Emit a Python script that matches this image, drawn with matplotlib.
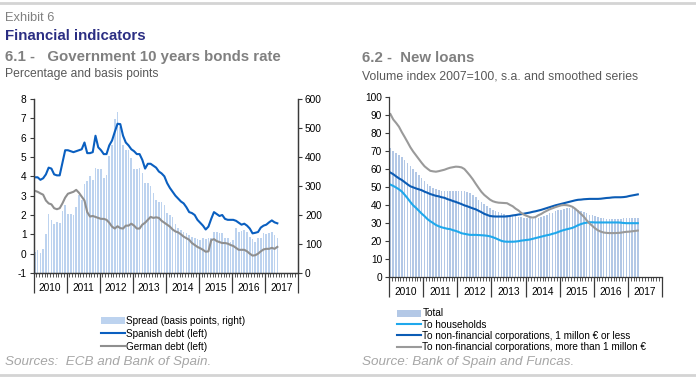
import numpy as np
import matplotlib.pyplot as plt
from matplotlib.lines import Line2D
from matplotlib.patches import Patch

plt.rcParams['font.family'] = ['Liberation Sans', 'DejaVu Sans']
plt.rcParams['axes.unicode_minus'] = False

# 6.1 - monthly, Jan 2010 .. May 2017
spread_bp = [73, 80, 70, 82, 135, 202, 182, 170, 176, 172, 215, 235,
             204, 204, 200, 226, 270, 252, 308, 318, 335, 322, 362, 360,
             360, 328, 339, 403, 443, 530, 556, 502, 443, 425, 425, 397,
             357, 357, 362, 344, 311, 311, 300, 275, 252, 246, 246, 234,
             207, 200, 194, 170, 155, 148, 142, 137, 130, 125, 120, 116,
             114, 120, 118, 120, 120, 142, 140, 139, 139, 120, 120, 108,
             115, 154, 140, 145, 147, 143, 125, 118, 108, 120, 120, 138,
             135, 137, 140, 132, 120]
spanish_debt = [3.95, 3.95, 3.82, 3.9, 4.1, 4.45, 4.4, 4.1, 4.05, 4.05, 4.7, 5.35,
                5.35, 5.3, 5.25, 5.3, 5.35, 5.4, 5.75, 5.2, 5.2, 5.25, 6.1, 5.5,
                5.35, 5.15, 5.15, 5.6, 5.85, 6.3, 6.72, 6.7, 6.1, 5.75, 5.6, 5.4,
                5.3, 5.15, 5.15, 4.85, 4.4, 4.65, 4.65, 4.55, 4.45, 4.25, 4.15, 4.0,
                3.65, 3.4, 3.2, 3.0, 2.85, 2.7, 2.6, 2.4, 2.15, 2.1, 2.0, 1.75,
                1.6, 1.45, 1.25, 1.4, 1.8, 2.15, 2.05, 1.95, 2.0, 1.8, 1.75, 1.75,
                1.75, 1.7, 1.6, 1.5, 1.55, 1.45, 1.3, 1.05, 1.08, 1.12, 1.35, 1.45,
                1.5, 1.62, 1.72, 1.62, 1.57]
german_debt = [3.25, 3.2, 3.12, 3.05, 2.75, 2.6, 2.55, 2.35, 2.3, 2.35, 2.6, 2.9,
               3.1, 3.15, 3.2, 3.3, 3.15, 2.95, 2.75, 2.15, 1.92, 1.95, 1.9, 1.85,
               1.8, 1.8, 1.75, 1.6, 1.4, 1.3, 1.42, 1.32, 1.3, 1.45, 1.45, 1.55,
               1.45, 1.3, 1.3, 1.5, 1.6, 1.75, 1.9, 1.85, 1.88, 1.85, 1.7, 1.6,
               1.5, 1.4, 1.25, 1.15, 1.1, 1.0, 0.88, 0.8, 0.72, 0.55, 0.45, 0.35,
               0.28, 0.2, 0.1, 0.12, 0.7, 0.75, 0.65, 0.6, 0.55, 0.55, 0.52, 0.45,
               0.4, 0.3, 0.2, 0.2, 0.2, 0.12, 0.0, -0.1, -0.08, 0.0, 0.12, 0.22,
               0.25, 0.25, 0.3, 0.25, 0.35]

# 6.2 - monthly, Jan 2010 .. Apr 2017
loans_total = [71.5, 70.2, 69, 67.8, 66.4, 65, 63.4, 61.8, 60, 58.2, 56.6, 54.9,
               53.2, 51.8, 50.5, 49.6, 48.8, 48.2, 47.8, 47.8, 47.8, 47.8, 47.8, 47.8,
               47.8, 47.8, 47.7, 47.3, 46.5, 45.5, 44.3, 43, 41.6, 40.3, 39.2, 38.2,
               37.4, 36.6, 36, 35.5, 35.1, 34.7, 34.3, 34, 33.7, 33.4, 33.2, 32.9,
               32.7, 32.6, 32.5, 32.6, 32.9, 33.3, 34, 34.6, 35.3, 35.8, 36.4, 37,
               37.5, 38, 38.2, 38.2, 38.2, 37.8, 37.3, 36.7, 36, 35.3, 34.7, 34.2,
               33.7, 33.3, 33, 32.7, 32.4, 32.2, 32.1, 32.1, 32.1, 32.3, 32.6, 32.7,
               32.8, 33, 33, 33]
loans_households = [51.3, 50.6, 49.7, 48.7, 47.5, 45.7, 43.8, 41.7, 39.8, 38.4, 36.8, 35.2,
                    33.8, 32.2, 31, 30, 28.9, 28.2, 27.6, 27.2, 26.8, 26.6, 26, 25.6,
                    25, 24.3, 24, 23.7, 23.4, 23.4, 23.4, 23.3, 23.2, 23.1, 22.9, 22.6,
                    22.1, 21.5, 20.8, 20.1, 19.7, 19.6, 19.6, 19.6, 19.7, 19.9, 20.2, 20.4,
                    20.6, 20.8, 21.2, 21.6, 22, 22.4, 22.8, 23.2, 23.5, 24, 24.4, 25,
                    25.6, 26.1, 26.5, 26.9, 27.3, 28, 28.8, 29.4, 29.9, 30.2, 30.4, 30.4,
                    30.3, 30.3, 30.3, 30.3, 30.3, 30.3, 30.3, 30.3, 30.3, 30.2, 30, 29.9,
                    29.9, 29.9, 29.9, 29.9]
loans_nfc_small = [58, 57.1, 55.9, 54.8, 53.9, 52.7, 51.5, 50.4, 49.8, 49.2, 48.7, 48.2,
                   47.4, 46.8, 46.1, 45.6, 45.1, 44.8, 44.3, 44, 43.3, 42.8, 42.2, 41.7,
                   41.1, 40.5, 39.8, 39.3, 38.7, 38.1, 37.6, 36.8, 36, 35.1, 34.5, 33.9,
                   33.7, 33.6, 33.6, 33.6, 33.6, 33.7, 33.9, 34.2, 34.4, 34.7, 34.9, 35.2,
                   35.5, 35.8, 36.2, 36.5, 36.9, 37.3, 37.8, 38.3, 38.8, 39.3, 39.8, 40.2,
                   40.6, 41, 41.4, 41.8, 42.2, 42.6, 42.9, 43, 43.2, 43.3, 43.4, 43.4,
                   43.4, 43.4, 43.5, 43.7, 43.9, 44, 44.2, 44.3, 44.3, 44.3, 44.4, 44.6,
                   45, 45.3, 45.6, 45.9]
loans_nfc_large = [90.5, 87.5, 85.6, 83.5, 80.5, 77.8, 75, 72.1, 69.7, 67.6, 65.5, 63.4,
                   61.5, 60.2, 59, 58.7, 58.5, 58.8, 59.2, 59.6, 60.2, 60.7, 61, 61.3,
                   61.2, 60.9, 60, 58.2, 56.3, 54.2, 51.8, 49.5, 47.3, 45.6, 44.3, 43,
                   42.1, 41.6, 41.3, 41.2, 41.1, 41, 40.1, 39.3, 38, 37, 35.6, 34.6,
                   33.9, 33.3, 33, 33.3, 34.3, 35, 36, 36.8, 37.6, 38.2, 38.8, 39.3,
                   39.8, 40, 39.9, 39.6, 39, 37.9, 36.5, 35, 33.5, 31.5, 29.8, 28.4,
                   27, 25.9, 25.2, 24.7, 24.5, 24.4, 24.4, 24.4, 24.5, 24.6, 24.9, 25.1,
                   25.2, 25.4, 25.6, 25.8]

years = list(range(2010, 2018))

SPREAD_C = '#bdd3ef'
SPANISH_C = '#0a5fc0'
GERMAN_C = '#8f8f8f'
TOTAL_C = '#b3c8e6'
HOUSE_C = '#1fa8ec'
SMALL_C = '#0b5cb5'
LARGE_C = '#9a9a9a'
AXIS_C = '#3a3a3a'
GREY_TXT = '#808080'
LW = 1.5

W, H = 696, 378


def fx(px):
    return px / W


def fy(py):
    return 1 - py / H


def month_x(n):
    # centre of each month, as fractional year
    return years[0] + (np.arange(n) + 0.5) / 12


def time_axis(ax):
    ax.set_xlim(years[0], years[-1] + 1)
    ax.set_xticks(range(years[0], years[-1] + 2))
    ax.set_xticklabels([])
    ax.set_xticks(np.arange(years[0], years[-1] + 1 + 1e-9, 1 / 12), minor=True)
    ax.tick_params(axis='x', which='major', length=14.5, width=0.9, color=AXIS_C)
    ax.tick_params(axis='x', which='minor', length=3, width=0.6, color=AXIS_C)
    for yr in years:
        ax.annotate(str(yr), xy=(yr + 0.5, 0), xycoords=('data', 'axes fraction'),
                    xytext=(0, -10.5), textcoords='offset points',
                    ha='center', va='center', fontsize=7.3)


fig = plt.figure(figsize=(W / 100, H / 100), dpi=100)

# header / frame lines
fig.add_artist(Line2D([0, 1], [fy(3), fy(3)], color='#d4d4d4', lw=2))
fig.add_artist(Line2D([0, 1], [fy(375), fy(375)], color='#d4d4d4', lw=2))
fig.text(fx(5), fy(21), 'Exhibit 6', fontsize=9.3, color=GREY_TXT, va='baseline')
fig.text(fx(5), fy(40.5), 'Financial indicators', fontsize=10.8, weight='bold',
         color='#2b2e83', va='baseline')
fig.text(fx(5), fy(61.5), '6.1 -   Government 10 years bonds rate', fontsize=10.8,
         weight='bold', color=GREY_TXT, va='baseline')
fig.text(fx(5), fy(77.5), 'Percentage and basis points', fontsize=8.7,
         color='#595959', va='baseline')
fig.text(fx(362), fy(61.5), '6.2 -  New loans', fontsize=10.8,
         weight='bold', color=GREY_TXT, va='baseline')
fig.text(fx(362), fy(79.5), 'Volume index 2007=100, s.a. and smoothed series',
         fontsize=8.8, color='#595959', va='baseline')
fig.text(fx(5), fy(365), 'Sources:  ECB and Bank of Spain.', fontsize=9.7,
         style='italic', color='#a6a6a6', va='baseline')
fig.text(fx(362), fy(365), 'Source: Bank of Spain and Funcas.', fontsize=9.7,
         style='italic', color='#a6a6a6', va='baseline')

# ---- 6.1 ----
ax1 = fig.add_axes([fx(33.5), fy(273), fx(298 - 33.5), (273 - 99) / H])
ax1b = ax1.twinx()
ax1.set_zorder(ax1b.get_zorder() + 1)
ax1.patch.set_visible(False)

x1 = month_x(len(spread_bp))
ax1b.bar(x1, spread_bp, width=0.6 / 12, color=SPREAD_C, linewidth=0)
ax1.plot(month_x(len(spanish_debt)), spanish_debt, color=SPANISH_C, lw=LW)
ax1.plot(month_x(len(german_debt)), german_debt, color=GERMAN_C, lw=LW)

ax1.set_ylim(-1, 8)
ax1.set_yticks(range(-1, 9))
ax1b.set_ylim(0, 600)
ax1b.set_yticks(range(0, 601, 100))
time_axis(ax1)
for a in (ax1, ax1b):
    a.spines['top'].set_visible(False)
    for s in a.spines.values():
        s.set_color(AXIS_C)
        s.set_linewidth(0.9)
    a.tick_params(axis='y', length=3, width=0.8, color=AXIS_C, labelsize=7.3, pad=2)

fig.legend([Patch(facecolor=SPREAD_C, edgecolor='none'),
            Line2D([], [], color=SPANISH_C, lw=LW),
            Line2D([], [], color=GERMAN_C, lw=LW)],
           ['Spread (basis points, right)', 'Spanish debt (left)', 'German debt (left)'],
           loc='upper left', bbox_to_anchor=(fx(101), fy(315.5)), frameon=False,
           fontsize=7.2, handlelength=2.4, handletextpad=0.15, labelspacing=0.32,
           borderpad=0, borderaxespad=0)

# ---- 6.2 ----
ax2 = fig.add_axes([fx(389), fy(277), fx(662 - 389), (277 - 97) / H])
ax2.bar(month_x(len(loans_total)), loans_total, width=0.55 / 12, color=TOTAL_C, linewidth=0)
ax2.plot(month_x(len(loans_households)), loans_households, color=HOUSE_C, lw=LW)
ax2.plot(month_x(len(loans_nfc_small)), loans_nfc_small, color=SMALL_C, lw=LW)
ax2.plot(month_x(len(loans_nfc_large)), loans_nfc_large, color=LARGE_C, lw=LW)
ax2.set_ylim(0, 100)
ax2.set_yticks(range(0, 101, 10))
time_axis(ax2)
ax2.spines['top'].set_visible(False)
ax2.spines['right'].set_visible(False)
for s in ax2.spines.values():
    s.set_color(AXIS_C)
    s.set_linewidth(0.9)
ax2.tick_params(axis='y', length=3, width=0.8, color=AXIS_C, labelsize=7.3, pad=2)

fig.legend([Patch(facecolor=TOTAL_C, edgecolor='none'),
            Line2D([], [], color=HOUSE_C, lw=LW),
            Line2D([], [], color=SMALL_C, lw=LW),
            Line2D([], [], color=LARGE_C, lw=LW)],
           ['Total', 'To households',
            'To non-financial corporations, 1 millon \u20ac or less',
            'To non-financial corporations, more than 1 millon \u20ac'],
           loc='upper left', bbox_to_anchor=(fx(397), fy(308.5)), frameon=False,
           fontsize=7.2, handlelength=2.4, handletextpad=0.15, labelspacing=0.12,
           borderpad=0, borderaxespad=0)

fig.savefig('out.png', dpi=100)
